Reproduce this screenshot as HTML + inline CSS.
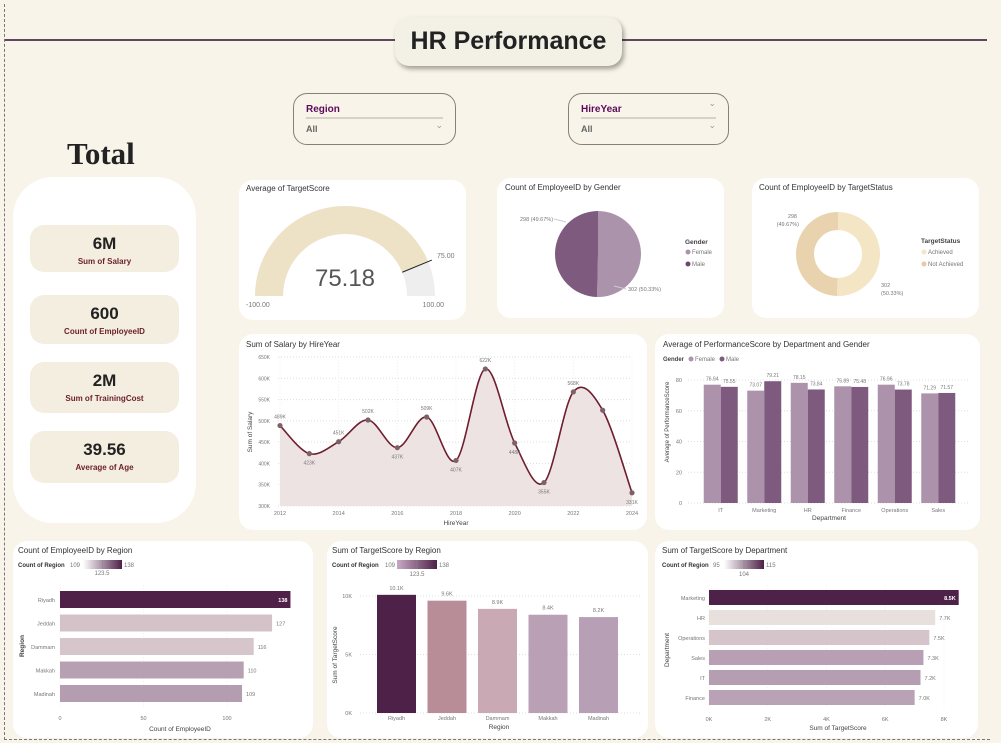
<!DOCTYPE html>
<html><head><meta charset="utf-8">
<style>
body{margin:0;width:1001px;height:743px;background:#f8f4e9;position:relative;overflow:hidden;font-family:"Liberation Sans",sans-serif;}
.abs{position:absolute;}
.card{position:absolute;background:#fff;border-radius:14px;}
.ct{position:absolute;font-size:8px;color:#333;}
.kpi{position:absolute;left:30px;width:149px;background:#f4eee0;border-radius:14px;text-align:center;}
.kpi .v{font-weight:bold;font-size:17px;color:#222;margin-top:9px;}
.kpi .l{font-weight:bold;font-size:8px;color:#6b1f2a;margin-top:3px;}
.slicer{position:absolute;border:1px solid #8a8070;border-radius:14px;}
.slicer .h{position:absolute;left:12px;top:10px;font-size:10px;font-weight:bold;color:#5c0a5c;}
.slicer .ln{position:absolute;left:12px;right:12px;top:23px;height:2px;background:#d8d2c6;}
.slicer .a{position:absolute;left:12px;top:30px;font-size:9px;font-weight:bold;color:#666;}
.slicer .c{position:absolute;right:12px;font-size:9px;color:#999;}
svg{position:absolute;left:0;top:0;}
</style></head><body>
<div class="abs" style="left:4px;top:4px;width:985px;height:735px;border-left:1px dashed #777;border-bottom:1px dashed #777;"></div>
<div class="abs" style="left:5px;top:39px;width:982px;height:2px;background:#5e4560;"></div>
<div class="abs" style="left:395px;top:17px;width:227px;height:49px;background:#f3f0e6;border-radius:14px;box-shadow:2px 3px 5px rgba(0,0,0,0.35);text-align:center;line-height:49px;font-size:25px;font-weight:bold;color:#222;">HR Performance</div>

<div class="slicer" style="left:293px;top:93px;width:161px;height:50px;">
<div class="h">Region</div><div class="ln"></div><div class="a">All</div><div class="c" style="top:26px;">&#8964;</div></div>
<div class="slicer" style="left:568px;top:93px;width:159px;height:50px;">
<div class="h">HireYear</div><div class="ln"></div><div class="a">All</div><div class="c" style="top:4px;">&#8964;</div><div class="c" style="top:26px;">&#8964;</div></div>

<div class="abs" style="left:67px;top:136px;font-family:'Liberation Serif',serif;font-weight:bold;font-size:31px;color:#222;">Total</div>

<div class="abs" style="left:13px;top:177px;width:183px;height:346px;background:#fff;border-radius:40px;"></div>
<div class="kpi" style="top:225px;height:47px;"><div class="v">6M</div><div class="l">Sum of Salary</div></div>
<div class="kpi" style="top:295px;height:49px;"><div class="v">600</div><div class="l">Count of EmployeeID</div></div>
<div class="kpi" style="top:362px;height:51px;"><div class="v">2M</div><div class="l">Sum of TrainingCost</div></div>
<div class="kpi" style="top:431px;height:52px;"><div class="v">39.56</div><div class="l">Average of Age</div></div>

<div class="card" style="left:239px;top:180px;width:227px;height:140px;"></div>
<div class="card" style="left:497px;top:178px;width:227px;height:140px;"></div>
<div class="card" style="left:752px;top:178px;width:227px;height:140px;"></div>
<div class="card" style="left:239px;top:334px;width:408px;height:196px;"></div>
<div class="card" style="left:655px;top:334px;width:325px;height:196px;"></div>
<div class="card" style="left:13px;top:541px;width:300px;height:197px;"></div>
<div class="card" style="left:327px;top:541px;width:321px;height:197px;"></div>
<div class="card" style="left:655px;top:541px;width:323px;height:197px;"></div>

<svg id="s" width="1001" height="743" font-family="Liberation Sans, sans-serif"></svg>

<script>
// Salary by hire year
const years=[2012,2013,2014,2015,2016,2017,2018,2019,2020,2021,2022,2023,2024];
const salaryK=[489,423,451,502,437,509,407,622,448,355,568,525,331];
const salaryTicks=[300,350,400,450,500,550,600,650];
// Performance
const depts=["IT","Marketing","HR","Finance","Operations","Sales"];
const perfFemale=[76.94,73.07,78.15,75.89,76.96,71.29];
const perfMale=[75.55,79.21,73.84,75.48,73.78,71.57];
const perfTicks=[0,20,40,60,80];
// Region count
const regions=["Riyadh","Jeddah","Dammam","Makkah","Madinah"];
const regionCount=[138,127,116,110,109];
const regionColors=["#4f2148","#d3c3c9","#d6c6cc","#b8a0b3","#b49db0"];
// Region target score (K)
const regionScore=[10.1,9.6,8.9,8.4,8.2];
const regionScoreColors=["#4e2148","#b88d98","#c9a9b3","#b9a0b5","#b7a0b6"];
// Dept target score
const deptOrder=["Marketing","HR","Operations","Sales","IT","Finance"];
const deptScore=[8.5,7.7,7.5,7.3,7.2,7.0];
const deptColors=["#4e2148","#e8e0dc","#d6c4cb","#b89fb4","#b59db2","#b9a2b6"];
// Gauge / pies
const gaugeValue=75.18, gaugeMin=-100, gaugeMax=100, gaugeTarget=75;
const genderCounts=[302,298];
const statusCounts=[302,298];

const S=document.getElementById('s');
const NS="http://www.w3.org/2000/svg";
function mk(t,a,txt){const e=document.createElementNS(NS,t);for(const k in a)e.setAttribute(k,a[k]);if(txt!==undefined)e.textContent=txt;S.appendChild(e);return e;}
function tx(x,y,s,o){o=o||{};return mk('text',Object.assign({x:x,y:y,'font-size':o.fs||6,fill:o.fill||'#777','text-anchor':o.anchor||'start'},o.extra||{}),s);}
let e;

// card titles
const titles=[[246,191,"Average of TargetScore"],[505,190,"Count of EmployeeID by Gender"],[759,190,"Count of EmployeeID by TargetStatus"],[246,347,"Sum of Salary by HireYear"],[663,347,"Average of PerformanceScore by Department and Gender"],[18,553,"Count of EmployeeID by Region"],[332,553,"Sum of TargetScore by Region"],[662,553,"Sum of TargetScore by Department"]];
titles.forEach(t=>{e=tx(t[0],t[1],t[2],{fs:8,fill:'#333'});

});

// Gauge
const gc={x:345,y:296},gr=90,gw=28;
function ang(v){return Math.PI*(1-(v-gaugeMin)/(gaugeMax-gaugeMin));}
function pt(r,a){return [gc.x+r*Math.cos(a),gc.y-r*Math.sin(a)];}
function arc(v0,v1,col){const a0=ang(v0),a1=ang(v1),ro=gr,ri=gr-gw;
const p1=pt(ro,a0),p2=pt(ro,a1),p3=pt(ri,a1),p4=pt(ri,a0);
return mk('path',{d:`M${p1} A${ro},${ro} 0 0 1 ${p2} L${p3} A${ri},${ri} 0 0 0 ${p4}Z`,fill:col});}
e=arc(gaugeMin,gaugeMax,'#eeeeee');


e=arc(gaugeMin,gaugeValue,'#ede2c6');


const ta=ang(gaugeTarget),tp1=pt(gr-gw,ta),tp2=pt(gr+4,ta);
e=mk('line',{x1:tp1[0],y1:tp1[1],x2:tp2[0],y2:tp2[1],stroke:'#222','stroke-width':1});


e=tx(437,258,gaugeTarget.toFixed(2),{fs:7});


e=tx(345,286,gaugeValue.toFixed(2),{fs:24,fill:'#555',anchor:'middle'});


e=tx(246,307,gaugeMin.toFixed(2),{fs:7});


e=tx(444,307,gaugeMax.toFixed(2),{fs:7,anchor:'end'});



// Pie / donut
function pie(cx,cy,r,ri,vals,cols,names){const tot=vals.reduce((a,b)=>a+b,0);let a0=-Math.PI/2;
vals.forEach((v,i)=>{const a1=a0+2*Math.PI*v/tot;const big=(a1-a0)>Math.PI?1:0;
const P=(rr,a)=>[cx+rr*Math.cos(a),cy+rr*Math.sin(a)];
let d;if(ri>0){d=`M${P(r,a0)} A${r},${r} 0 ${big} 1 ${P(r,a1)} L${P(ri,a1)} A${ri},${ri} 0 ${big} 0 ${P(ri,a0)}Z`;}
else d=`M${cx},${cy} L${P(r,a0)} A${r},${r} 0 ${big} 1 ${P(r,a1)}Z`;
const el=mk('path',{d:d,fill:cols[i]});


a0=a1;});}
pie(598,254,43,0,genderCounts,['#ac93ac','#7e5a7e'],['pie-female','pie-male']);
pie(838,254,42,24,statusCounts,['#f4e5c5','#e8d3ae'],['donut-achieved','donut-not-achieved']);
const gt=genderCounts[0]+genderCounts[1];
tx(520,221,genderCounts[1]+" ("+(100*genderCounts[1]/gt).toFixed(2)+"%)",{fs:5.5});
tx(628,291,genderCounts[0]+" ("+(100*genderCounts[0]/gt).toFixed(2)+"%)",{fs:5.5});
mk('path',{d:'M554,219 L566,222',stroke:'#ccc',fill:'none'});mk('path',{d:'M626,289 L614,286',stroke:'#ccc',fill:'none'});
tx(797,218,String(statusCounts[1]),{fs:5.5,anchor:'end'});tx(799,226,"("+(100*statusCounts[1]/gt).toFixed(2)+"%)",{fs:5.5,anchor:'end'});
tx(881,287,String(statusCounts[0]),{fs:5.5});tx(881,295,"("+(100*statusCounts[0]/gt).toFixed(2)+"%)",{fs:5.5});
tx(685,244,"Gender",{fs:6.5,fill:'#444',extra:{'font-weight':'bold'}});
mk('circle',{cx:688,cy:252,r:2.5,fill:'#ac93ac'});tx(692,254,"Female",{fs:6});
mk('circle',{cx:688,cy:264,r:2.5,fill:'#6a4a6a'});tx(692,266,"Male",{fs:6});
tx(921,243,"TargetStatus",{fs:6.5,fill:'#444',extra:{'font-weight':'bold'}});
mk('circle',{cx:924,cy:252,r:2.5,fill:'#f4e5c5'});tx(928,254,"Achieved",{fs:6});
mk('circle',{cx:924,cy:264,r:2.5,fill:'#e8c9a0'});tx(928,266,"Not Achieved",{fs:6});

// Line chart
const lx=v=>280+(v-2012)*(632-280)/12, ly=v=>506-(v-300)*(506-357)/350;
salaryTicks.forEach(t=>{mk('line',{x1:278,x2:632,y1:ly(t),y2:ly(t),stroke:'#ddd','stroke-dasharray':'1,2'});tx(270,ly(t)+2,t+"K",{fs:5,anchor:'end'});});
years.forEach((y,i)=>{if(i%2==0){mk('line',{x1:lx(y),x2:lx(y),y1:357,y2:506,stroke:'#eee','stroke-dasharray':'1,2'});tx(lx(y),515,String(y),{fs:5.5,anchor:'middle'});}});
function smooth(pts){let d=`M${pts[0][0]},${pts[0][1]}`;for(let i=0;i<pts.length-1;i++){const p0=pts[Math.max(i-1,0)],p1=pts[i],p2=pts[i+1],p3=pts[Math.min(i+2,pts.length-1)];
d+=` C${p1[0]+(p2[0]-p0[0])/6},${p1[1]+(p2[1]-p0[1])/6} ${p2[0]-(p3[0]-p1[0])/6},${p2[1]-(p3[1]-p1[1])/6} ${p2[0]},${p2[1]}`;}return d;}
const lpts=years.map((y,i)=>[lx(y),ly(salaryK[i])]);
const ld=smooth(lpts);
e=mk('path',{d:ld+` L${lx(2024)},506 L${lx(2012)},506Z`,fill:'#eee3e3'});


e=mk('path',{d:ld,fill:'none',stroke:'#6e1e2e','stroke-width':1.6});


lpts.forEach((p,i)=>{e=mk('circle',{cx:p[0],cy:p[1],r:2.6,fill:'#7d6068'});


const below=(i>0&&salaryK[i]<salaryK[i-1]);if(i!=11)tx(p[0],below?p[1]+11:p[1]-7,salaryK[i]+"K",{fs:5,anchor:'middle'});});
tx(456,525,"HireYear",{fs:6.5,fill:'#444',anchor:'middle'});
tx(252,432,"Sum of Salary",{fs:6.5,fill:'#444',anchor:'middle',extra:{transform:'rotate(-90 252 432)'}});

// Perf bars
const px0=699,pgw=43.5,py=v=>503-v*(503-380)/80;
perfTicks.forEach(t=>{mk('line',{x1:688,x2:970,y1:py(t),y2:py(t),stroke:'#ddd','stroke-dasharray':'1,2'});tx(682,py(t)+2,String(t),{fs:5.5,anchor:'end'});});
depts.forEach((d,i)=>{const cx=px0+pgw*i+pgw/2;
e=mk('rect',{x:cx-17,y:py(perfFemale[i]),width:17,height:503-py(perfFemale[i]),fill:'#ad92ab'});


e=mk('rect',{x:cx,y:py(perfMale[i]),width:17,height:503-py(perfMale[i]),fill:'#7d5a7e'});


tx(cx-8.5,py(perfFemale[i])-4,perfFemale[i].toFixed(2),{fs:5,anchor:'middle'});
tx(cx+8.5,py(perfMale[i])-4,perfMale[i].toFixed(2),{fs:5,anchor:'middle'});
tx(cx,512,d,{fs:5.5,anchor:'middle'});});
tx(829,520,"Department",{fs:6.5,fill:'#444',anchor:'middle'});
tx(669,422,"Average of PerformanceScore",{fs:6,fill:'#444',anchor:'middle',extra:{transform:'rotate(-90 669 422)'}});
tx(663,361,"Gender",{fs:6,fill:'#444',extra:{'font-weight':'bold'}});
mk('circle',{cx:691,cy:359,r:2.5,fill:'#ad92ab'});tx(695,361,"Female",{fs:6});
mk('circle',{cx:722,cy:359,r:2.5,fill:'#7d5a7e'});tx(726,361,"Male",{fs:6});

// Legends (gradients)
function grad(id,x,y,w,c0,c1){const df=mk('defs',{});const lg=document.createElementNS(NS,'linearGradient');lg.setAttribute('id',id);
[[0,c0],[1,c1]].forEach(s=>{const st=document.createElementNS(NS,'stop');st.setAttribute('offset',s[0]);st.setAttribute('stop-color',s[1]);lg.appendChild(st);});df.appendChild(lg);
mk('rect',{x:x,y:y,width:w,height:9,fill:`url(#${id})`});mk('line',{x1:x+w/2,x2:x+w/2,y1:y,y2:y+9,stroke:'#888','stroke-width':0.6});}
tx(18,567,"Count of Region",{fs:6,fill:'#333',extra:{'font-weight':'bold'}});tx(70,567,"109",{fs:6});grad('g1',83,560,39,'#fff','#4e2148');tx(124,567,"138",{fs:6});tx(102,575,"123.5",{fs:6,anchor:'middle'});
tx(332,567,"Count of Region",{fs:6,fill:'#333',extra:{'font-weight':'bold'}});tx(385,567,"109",{fs:6});grad('g2',397,560,40,'#c8a9c4','#4e2148');tx(439,567,"138",{fs:6});tx(417,576,"123.5",{fs:6,anchor:'middle'});
tx(662,567,"Count of Region",{fs:6,fill:'#333',extra:{'font-weight':'bold'}});tx(713,567,"95",{fs:6});grad('g3',724,560,40,'#fff','#4e2148');tx(766,567,"115",{fs:6});tx(744,576,"104",{fs:6,anchor:'middle'});

// Region count horizontal
const rx=v=>60+v*(227-60)/100;
[0,50,100].forEach(t=>{mk('line',{x1:rx(t),x2:rx(t),y1:585,y2:708,stroke:'#eee','stroke-dasharray':'1,2'});tx(rx(t),720,String(t),{fs:5.5,anchor:'middle'});});
regions.forEach((r,i)=>{const y=591+i*23.5;
e=mk('rect',{x:60,y:y,width:rx(regionCount[i])-60,height:17,fill:regionColors[i]});


tx(55,y+11,r,{fs:5.5,anchor:'end'});
if(i==0)tx(rx(regionCount[i])-3,y+11,String(regionCount[i]),{fs:5.5,fill:'#fff',anchor:'end',extra:{'font-weight':'bold'}});
else tx(rx(regionCount[i])+4,y+11,String(regionCount[i]),{fs:5.5});});
tx(180,731,"Count of EmployeeID",{fs:6.5,fill:'#444',anchor:'middle'});
tx(24,646,"Region",{fs:6.5,fill:'#444',anchor:'middle',extra:{transform:'rotate(-90 24 646)','font-weight':'bold'}});

// Region score vertical
const sy=v=>713-v*(713-596)/10;
[0,5,10].forEach(t=>{mk('line',{x1:360,x2:640,y1:sy(t),y2:sy(t),stroke:'#ddd','stroke-dasharray':'1,2'});tx(352,sy(t)+2,t+"K",{fs:5.5,anchor:'end'});});
regions.forEach((r,i)=>{const x=377+i*50.5;
e=mk('rect',{x:x,y:sy(regionScore[i]),width:39,height:713-sy(regionScore[i]),fill:regionScoreColors[i]});


tx(x+19.5,sy(regionScore[i])-5,regionScore[i].toFixed(1)+"K",{fs:5.5,anchor:'middle'});
tx(x+19.5,720,r,{fs:5.5,anchor:'middle'});});
tx(499,729,"Region",{fs:6.5,fill:'#444',anchor:'middle'});
tx(337,655,"Sum of TargetScore",{fs:6.5,fill:'#444',anchor:'middle',extra:{transform:'rotate(-90 337 655)'}});

// Dept score horizontal
const dx=v=>709+v*(944-709)/8;
[0,2,4,6,8].forEach(t=>{mk('line',{x1:dx(t),x2:dx(t),y1:585,y2:708,stroke:'#eee','stroke-dasharray':'1,2'});tx(dx(t),721,t+"K",{fs:5.5,anchor:'middle'});});
deptOrder.forEach((d,i)=>{const y=590+i*20;
e=mk('rect',{x:709,y:y,width:dx(deptScore[i])-709,height:15,fill:deptColors[i]});


tx(705,y+10,d,{fs:5.5,anchor:'end'});
if(i==0)tx(dx(deptScore[i])-3,y+10,deptScore[i].toFixed(1)+"K",{fs:5.5,fill:'#fff',anchor:'end',extra:{'font-weight':'bold'}});
else tx(dx(deptScore[i])+4,y+10,deptScore[i].toFixed(1)+"K",{fs:5.5});});
tx(838,730,"Sum of TargetScore",{fs:6.5,fill:'#444',anchor:'middle'});
tx(669,650,"Department",{fs:6.5,fill:'#444',anchor:'middle',extra:{transform:'rotate(-90 669 650)'}});
</script>
</body></html>
